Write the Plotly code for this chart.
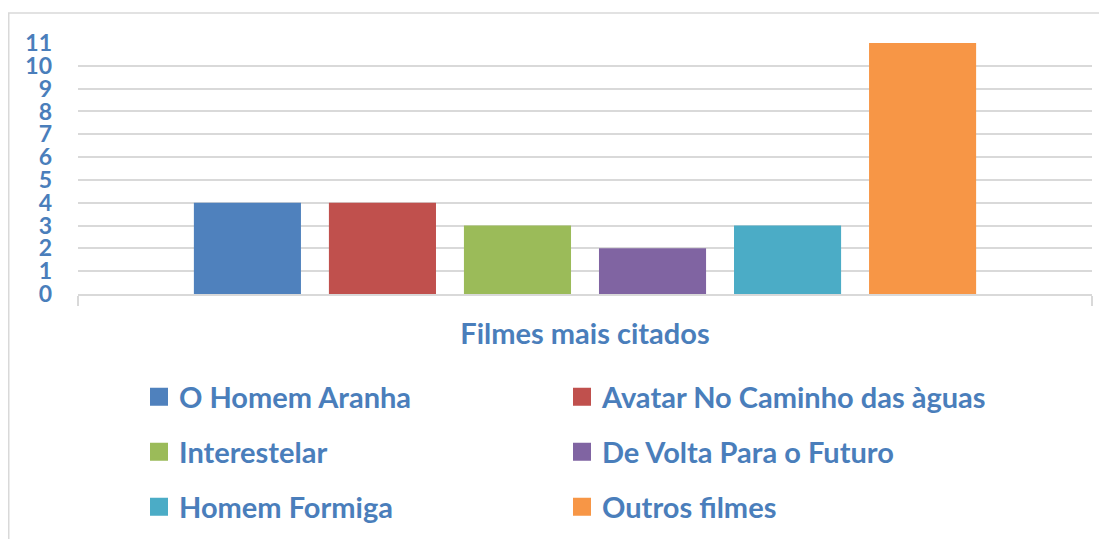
import plotly.graph_objects as go

category = ["Filmes mais citados"]
films = ["O Homem Aranha", "Avatar No Caminho das àguas", "Interestelar",
         "De Volta Para o Futuro", "Homem Formiga", "Outros filmes"]
counts = [4, 4, 3, 2, 3, 11]
colors = ["#4F81BD", "#C0504D", "#9BBB59", "#8064A2", "#4BACC6", "#F79646"]
y_ticks = list(range(0, 12))

TEXT = "#4A7EBB"
FONT = "Lato"
legend_names = ["legend", "legend", "legend2", "legend2", "legend3", "legend3"]

fig = go.Figure()
for name, val, col, lg in zip(films, counts, colors, legend_names):
    fig.add_trace(go.Bar(x=category, y=[val], name=name, marker=dict(color=col, line=dict(width=0)),
                         showlegend=False, legendgroup=name))
    fig.add_trace(go.Scatter(x=[None], y=[None], mode="markers", name=name, legendgroup=name,
                             marker=dict(symbol="square", size=16, color=col, line=dict(color=col, width=2)),
                             legend=lg, showlegend=True))

# figure coordinates (page is offset by the 8px body margin)
W, H = 1099, 531
L, R, T, B = 70, 15, 35, 245
pw, ph = W - L - R, H - T - B

def px_x(x):
    return (x - L) / pw

def px_y(y):
    return (H - B - y) / ph

leg_common = dict(orientation="h", entrywidth=378, entrywidthmode="pixels",
                  font=dict(family=FONT, size=29, color=TEXT, weight="bold"),
                  xanchor="left", yanchor="middle", bgcolor="rgba(0,0,0,0)",
                  itemclick=False, itemdoubleclick=False)

fig.update_layout(
    width=W, height=H,
    margin=dict(l=L, r=R, t=T, b=B, autoexpand=False),
    paper_bgcolor="white", plot_bgcolor="white",
    barmode="group", bargap=0.201, bargroupgap=0.207,
    font=dict(family=FONT, color=TEXT),
    legend=dict(x=px_x(131), y=px_y(389), **leg_common),
    legend2=dict(x=px_x(131), y=px_y(444), **leg_common),
    legend3=dict(x=px_x(131), y=px_y(499), **leg_common),
    xaxis=dict(
        type="category", range=[-0.5, 0.5], showline=True, linecolor="#D9D9D9", linewidth=1.5,
        tickson="boundaries", ticks="outside", ticklen=10, tickcolor="#D9D9D9", tickwidth=1.5,
        tickfont=dict(family=FONT, size=29, color=TEXT, weight="bold"),
        ticklabelstandoff=13, showgrid=False, fixedrange=True, automargin=False,
    ),
    yaxis=dict(
        range=[0, 11], tickvals=y_ticks, ticktext=[str(v) for v in y_ticks],
        showgrid=True, gridcolor="#D9D9D9", gridwidth=1.5, zeroline=False, showline=False,
        ticks="", tickfont=dict(family=FONT, size=23, color=TEXT, weight="bold"),
        ticklabelstandoff=25, fixedrange=True, automargin=False,
    ),
    shapes=[dict(type="rect", xref="paper", yref="paper",
                 x0=px_x(0.75), x1=px_x(1120), y0=px_y(560), y1=px_y(5),
                 line=dict(color="#D9D9D9", width=1.5), fillcolor="rgba(0,0,0,0)", layer="below")],
)

fig.write_html("out.html")
